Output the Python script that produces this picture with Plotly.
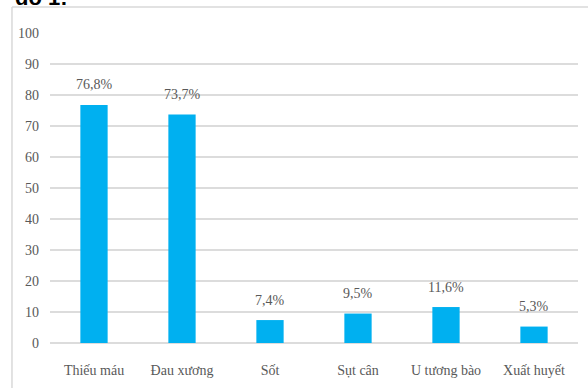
import plotly.graph_objects as go

categories = ["Thiếu máu", "Đau xương", "Sốt", "Sụt cân", "U tương bào", "Xuất huyết"]
values = [76.8, 73.7, 7.4, 9.5, 11.6, 5.3]
labels = ["76,8%", "73,7%", "7,4%", "9,5%", "11,6%", "5,3%"]
y_ticks = [0, 10, 20, 30, 40, 50, 60, 70, 80, 90, 100]

FONT = "Liberation Serif"
GRAY = "#595959"

fig = go.Figure()
fig.add_trace(go.Bar(
    x=categories, y=values,
    marker=dict(color="#00B0F0", line=dict(width=0)),
    width=0.31,
    hoverinfo="skip",
))

for c, v, t in zip(categories, values, labels):
    fig.add_annotation(x=c, y=v, text=t, showarrow=False, yanchor="middle",
                       yshift=20, font=dict(family=FONT, size=14, color=GRAY))

# partially visible caption at top-left (cut off in the original)
fig.add_annotation(xref="paper", yref="paper", x=-0.07, y=1.0, yshift=36,
                   xanchor="left", yanchor="middle", text="<b>đồ 1:</b>",
                   showarrow=False, font=dict(family="Liberation Sans", size=22, color="black"))

# chart border (left and top visible)
fig.add_shape(type="line", xref="paper", yref="paper", x0=-0.0720, x1=1.05, y0=1.0839, y1=1.0839,
              line=dict(color="#d9d9d9", width=1.5))
fig.add_shape(type="line", xref="paper", yref="paper", x0=-0.0720, x1=-0.0720, y0=1.0839, y1=-0.2,
              line=dict(color="#d9d9d9", width=1.5))

fig.update_layout(
    width=588, height=388,
    margin=dict(l=50, r=10, t=33, b=45),
    paper_bgcolor="white", plot_bgcolor="white",
    showlegend=False,
    xaxis=dict(showgrid=False, showline=False, ticks="", ticklabelstandoff=17,
               tickfont=dict(family=FONT, size=14, color=GRAY)),
    yaxis=dict(range=[0, 100], tickvals=y_ticks, showgrid=True, gridcolor="#dcdcdc", gridwidth=1.5,
               zeroline=True, zerolinecolor="#dcdcdc", zerolinewidth=1.5, showline=False, ticks="",
               ticklabelstandoff=10, tickfont=dict(family=FONT, size=14, color=GRAY)),
)

fig.write_html("out.html")
